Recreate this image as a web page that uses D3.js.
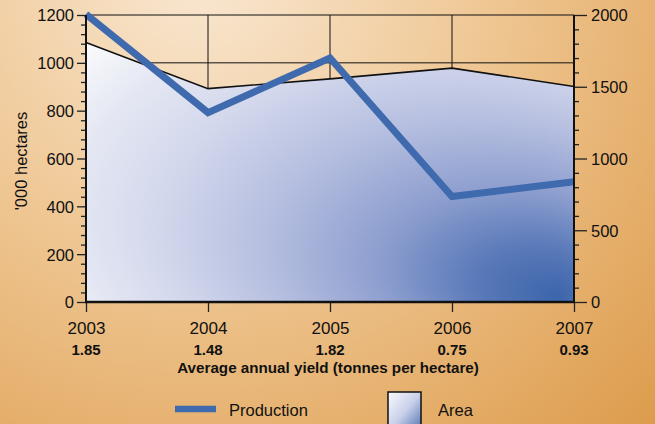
<!DOCTYPE html>
<html>
<head>
<meta charset="utf-8">
<script src="https://cdn.jsdelivr.net/npm/d3@7"></script>
<style>
  html, body { margin: 0; padding: 0; }
  body { width: 655px; height: 424px; overflow: hidden; }
  svg { display: block; font-family: "Liberation Sans", Arial, sans-serif; }
</style>
</head>
<body>
<div id="chart"></div>
<script>
// Data
const years = ["2003", "2004", "2005", "2006", "2007"];
const yields = ["1.85", "1.48", "1.82", "0.75", "0.93"];
const area = [1085, 892, 933, 978, 901];          // '000 hectares (left axis)
const production = [2005, 1320, 1700, 735, 838];  // right axis
const leftTicks = [0, 200, 400, 600, 800, 1000, 1200];
const rightTicks = [0, 500, 1000, 1500, 2000];

const W = 655, H = 424;
const plotL = 86, plotR = 574, plotT = 15, plotB = 302;

const svg = d3.select("#chart").append("svg")
  .attr("width", W).attr("height", H);

const defs = svg.append("defs");

// background: pale cream top-left to orange
const bg = defs.append("radialGradient")
  .attr("id", "bg")
  .attr("gradientUnits", "userSpaceOnUse")
  .attr("cx", 200).attr("cy", -30).attr("r", 640);
bg.append("stop").attr("offset", 0).attr("stop-color", "#f9e8d3");
bg.append("stop").attr("offset", 0.45).attr("stop-color", "#efc794");
bg.append("stop").attr("offset", 1).attr("stop-color", "#dd9c4c");

// area fill: focal radial, dark blue at bottom-right, squashed vertically
const k = 0.6;
const ag = defs.append("radialGradient")
  .attr("id", "areaFill")
  .attr("gradientUnits", "userSpaceOnUse")
  .attr("cx", 400).attr("cy", 200 / k).attr("r", 410)
  .attr("fx", 559).attr("fy", 297 / k)
  .attr("gradientTransform", `matrix(1,0,0,${k},0,0)`);
[[0, "#3c65ab"], [0.14, "#5878b8"], [0.32, "#8e9fcf"], [0.52, "#b6bfe0"],
 [0.7, "#d2d7ec"], [0.86, "#e5e8f3"], [0.95, "#f3f4f9"], [1, "#fcfcfe"]]
  .forEach(([o, c]) => ag.append("stop").attr("offset", o).attr("stop-color", c));

const lg = defs.append("linearGradient")
  .attr("id", "legendFill")
  .attr("x1", 0).attr("y1", 0).attr("x2", 1).attr("y2", 1);
lg.append("stop").attr("offset", 0).attr("stop-color", "#fbfbfe");
lg.append("stop").attr("offset", 0.5).attr("stop-color", "#c9d0e9");
lg.append("stop").attr("offset", 1).attr("stop-color", "#4a6fb0");

svg.append("rect").attr("width", W).attr("height", H).attr("fill", "url(#bg)");

const x = d3.scalePoint().domain(years).range([plotL, plotR]);
const yL = d3.scaleLinear().domain([0, 1200]).range([plotB, plotT]);
const yR = d3.scaleLinear().domain([0, 2000]).range([plotB, plotT]);

const g = svg.append("g");

// grid (covered by area where it dips below)
g.append("line")
  .attr("x1", plotL).attr("x2", plotR)
  .attr("y1", yL(1200)).attr("y2", yL(1200))
  .attr("stroke", "#111").attr("stroke-width", 1.2);
g.append("line")
  .attr("x1", plotL).attr("x2", plotR)
  .attr("y1", yL(1000)).attr("y2", yL(1000))
  .attr("stroke", "#111").attr("stroke-width", 1);
years.slice(1, -1).forEach(yr => {
  g.append("line")
    .attr("x1", x(yr)).attr("x2", x(yr))
    .attr("y1", plotT).attr("y2", plotB)
    .attr("stroke", "#111").attr("stroke-width", 1);
});

// area
const areaData = years.map((yr, i) => ({ yr, v: area[i] }));
g.append("path")
  .datum(areaData)
  .attr("fill", "url(#areaFill)")
  .attr("d", d3.area().x(d => x(d.yr)).y0(plotB).y1(d => yL(d.v)));
g.append("path")
  .datum(areaData)
  .attr("fill", "none")
  .attr("stroke", "#111")
  .attr("stroke-width", 1.6)
  .attr("d", d3.line().x(d => x(d.yr)).y(d => yL(d.v)));

// production line
const prodData = years.map((yr, i) => ({ yr, v: production[i] }));
g.append("path")
  .datum(prodData)
  .attr("fill", "none")
  .attr("stroke", "#3f6aae")
  .attr("stroke-width", 7)
  .attr("stroke-linejoin", "miter")
  .attr("d", d3.line().x(d => x(d.yr)).y(d => yR(d.v)));

// axes
function styleAxis(sel) {
  sel.select(".domain").remove();
  sel.selectAll(".tick line").attr("stroke", "#222").attr("stroke-width", 1.3);
  sel.selectAll(".tick text").attr("fill", "#111");
}

const minorL = d3.range(0, 1201, 40).filter(v => !leftTicks.includes(v));
svg.append("g")
  .attr("transform", `translate(${plotL},0)`)
  .call(d3.axisLeft(yL).tickValues(minorL).tickSize(5).tickFormat(""))
  .call(styleAxis);
svg.append("g")
  .attr("transform", `translate(${plotL},0)`)
  .call(d3.axisLeft(yL).tickValues(leftTicks).tickSize(9).tickPadding(3).tickFormat(d3.format("d")))
  .call(styleAxis)
  .call(s => s.selectAll(".tick text").attr("font-size", "16.5px").attr("dy", "0.36em"));

const minorR = d3.range(0, 2001, 100).filter(v => !rightTicks.includes(v));
svg.append("g")
  .attr("transform", `translate(${plotR},0)`)
  .call(d3.axisRight(yR).tickValues(minorR).tickSize(5).tickFormat(""))
  .call(styleAxis);
svg.append("g")
  .attr("transform", `translate(${plotR},0)`)
  .call(d3.axisRight(yR).tickValues(rightTicks).tickSize(13).tickPadding(4).tickFormat(d3.format("d")))
  .call(styleAxis)
  .call(s => s.selectAll(".tick text").attr("font-size", "16.5px").attr("dy", "0.36em"));

svg.append("g")
  .attr("transform", `translate(0,${plotB})`)
  .call(d3.axisBottom(x).tickSize(10).tickPadding(8))
  .call(styleAxis)
  .call(s => s.selectAll(".tick text").attr("font-size", "17px").attr("dy", "0.85em"));

// axis lines
svg.append("line").attr("x1", plotL).attr("x2", plotL).attr("y1", plotT).attr("y2", plotB)
  .attr("stroke", "#111").attr("stroke-width", 2);
svg.append("line").attr("x1", plotR).attr("x2", plotR).attr("y1", plotT).attr("y2", plotB)
  .attr("stroke", "#111").attr("stroke-width", 2);
svg.append("line").attr("x1", plotL - 1).attr("x2", plotR + 1).attr("y1", plotB).attr("y2", plotB)
  .attr("stroke", "#111").attr("stroke-width", 2.6);

// yield row
svg.append("g").selectAll("text")
  .data(years)
  .join("text")
  .attr("x", d => x(d))
  .attr("y", 355)
  .attr("text-anchor", "middle")
  .attr("font-size", "15px")
  .attr("font-weight", "bold")
  .attr("fill", "#111")
  .text((d, i) => yields[i]);

svg.append("text")
  .attr("x", 328).attr("y", 373)
  .attr("text-anchor", "middle")
  .attr("font-size", "15.2px")
  .attr("font-weight", "bold")
  .attr("fill", "#111")
  .text("Average annual yield (tonnes per hectare)");

svg.append("text")
  .attr("transform", "translate(27,161) rotate(-90)")
  .attr("text-anchor", "middle")
  .attr("font-size", "16.5px")
  .attr("fill", "#111")
  .text("'000 hectares");

// legend
svg.append("line")
  .attr("x1", 175).attr("x2", 216).attr("y1", 409).attr("y2", 409)
  .attr("stroke", "#3f6aae").attr("stroke-width", 6.5);
svg.append("text")
  .attr("x", 229).attr("y", 416)
  .attr("font-size", "16.5px").attr("fill", "#111")
  .text("Production");
svg.append("rect")
  .attr("x", 388).attr("y", 392).attr("width", 33).attr("height", 40)
  .attr("fill", "url(#legendFill)")
  .attr("stroke", "#111").attr("stroke-width", 1.5);
svg.append("text")
  .attr("x", 438).attr("y", 416)
  .attr("font-size", "16.5px").attr("fill", "#111")
  .text("Area");
</script>
</body>
</html>
